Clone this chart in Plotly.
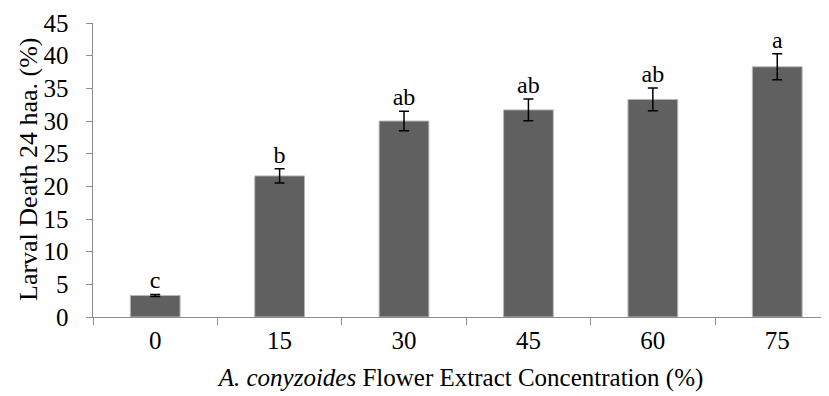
import plotly.graph_objects as go

categories = ["0", "15", "30", "45", "60", "75"]
values = [3.3, 21.6, 30.0, 31.7, 33.3, 38.3]
errors = [0.15, 1.1, 1.5, 1.65, 1.75, 2.0]
letters = ["c", "b", "ab", "ab", "ab", "a"]
y_ticks = [0, 5, 10, 15, 20, 25, 30, 35, 40, 45]
y_title = "Larval Death 24 haa. (%)"
x_title = "<i>A. conyzoides</i> Flower Extract Concentration (%)"

FONT = "Liberation Serif, Times New Roman, serif"
xs = list(range(len(categories)))

fig = go.Figure()
fig.add_trace(go.Bar(
    x=xs, y=values, width=0.4,
    marker=dict(color="#606060", line=dict(color="#b8b8b8", width=1)),
    error_y=dict(type="data", array=errors, visible=True, color="#000000",
                 thickness=1.5, width=5),
    showlegend=False,
))
fig.add_trace(go.Scatter(
    x=xs, y=[v + e for v, e in zip(values, errors)],
    mode="text", text=letters, textposition="top center",
    textfont=dict(family=FONT, size=24, color="#000000"),
    showlegend=False, cliponaxis=False,
))

# page body has an 8px margin, so the figure is offset by 8px
fig.update_layout(
    width=821, height=388,
    margin=dict(l=85, r=0, t=15, b=79),
    paper_bgcolor="white", plot_bgcolor="white",
    font=dict(family=FONT, size=24, color="#000000"),
    bargap=0.6,
    annotations=[dict(text=y_title, textangle=-90, xref="paper", yref="paper",
                      x=0, y=0.5, xshift=-65, xanchor="center", yanchor="middle",
                      showarrow=False, font=dict(family=FONT, size=26))],
)
fig.update_xaxes(
    range=[-0.5, 5.416], automargin=False,
    tickmode="array", tickvals=xs, ticktext=categories,
    ticks="", ticklabelstandoff=1, showgrid=False, zeroline=False,
    showline=True, linecolor="#8c8c8c", linewidth=1,
    minor=dict(tickmode="array", tickvals=[-0.5, 0.5, 1.5, 2.5, 3.5, 4.5],
               ticks="outside", ticklen=7, tickcolor="#8c8c8c", tickwidth=1,
               showgrid=False),
    tickfont=dict(family=FONT, size=25),
    title=dict(text=x_title, font=dict(family=FONT, size=25)),
)
fig.update_yaxes(
    range=[0, 45], automargin=False,
    tickmode="array", tickvals=y_ticks,
    ticktext=[f"{v}\u00a0\u00a0" for v in y_ticks],
    ticks="outside", ticklen=6, tickcolor="#8c8c8c",
    showgrid=False, zeroline=False,
    showline=True, linecolor="#8c8c8c", linewidth=1,
    tickfont=dict(family=FONT, size=25),
)

fig.write_html("out.html")
